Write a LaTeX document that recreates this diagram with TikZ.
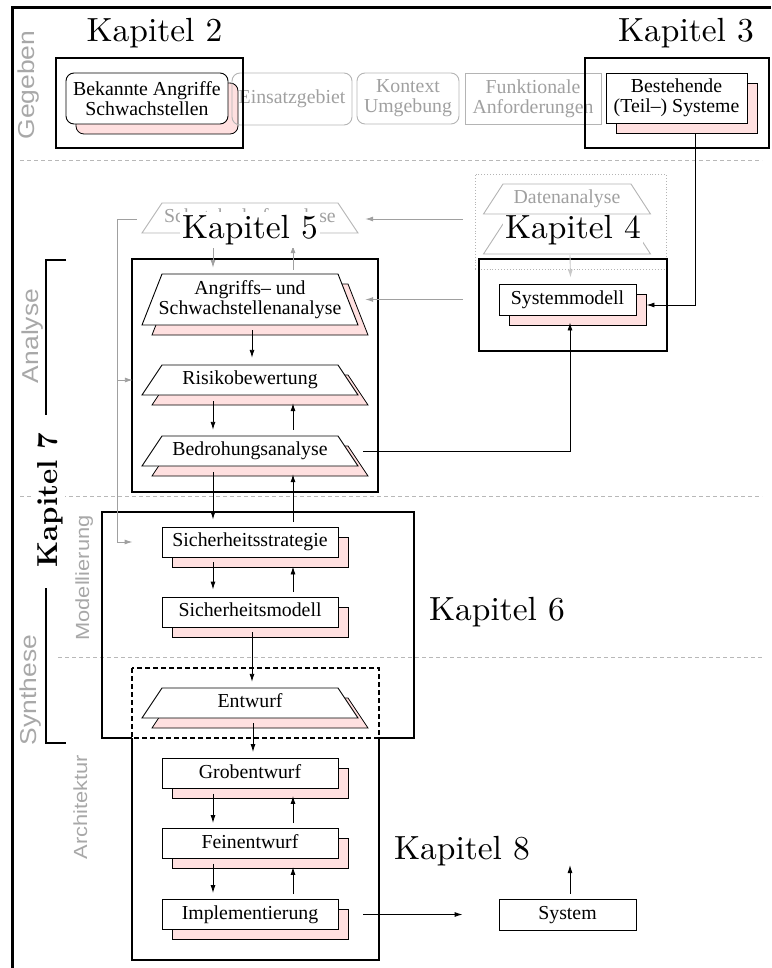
\documentclass[tikz,border=0pt]{standalone}
\usepackage{fontspec}
\newfontfamily\boxfont{Liberation Serif}
\newfontfamily\phasefont{Liberation Sans}
\usetikzlibrary{arrows.meta}

\definecolor{shadepink}{HTML}{FFE0E0}
\definecolor{phasegrey}{HTML}{A8A8A8}
\definecolor{ghostgrey}{HTML}{A0A0A0}
\definecolor{ghostline}{HTML}{B4B4B4}
\definecolor{faintgrey}{HTML}{C8C8C8}
\definecolor{rulegrey}{HTML}{B8B8B8}

\newcommand\boxsize{\fontsize{19.8pt}{20pt}\selectfont}
\newcommand\kapsize{\fontsize{10pt}{12pt}\selectfont}
\newcommand\phasesize{\fontsize{23pt}{24pt}\selectfont}
\newcommand\subphasesize{\fontsize{19pt}{20pt}\selectfont}

\tikzset{
  stepbox/.style={draw=black, line width=0.9pt, fill=white, inner sep=0pt,
    minimum width=176pt, minimum height=30pt, font=\boxfont\boxsize, align=center},
  oneline/.style={text height=13.5pt, text depth=4.5pt},
  castshade/.style={draw=black, line width=0.8pt, fill=shadepink},
  traplabel/.style={inner sep=0pt, minimum width=216pt, font=\boxfont\boxsize, align=center},
  trapface/.style={draw=black, line width=0.9pt, fill=white},
  trapshade/.style={draw=black, line width=0.8pt, fill=shadepink},
  ghosttrap/.style={draw=ghostline, line width=0.9pt, fill=white},
  ghostbox/.style={draw=ghostline, line width=0.9pt, inner sep=0pt, text=ghostgrey,
    font=\boxfont\boxsize, align=center},
  chapframe/.style={draw=black, line width=2.5pt},
  % chapter labels: 10pt design size, enlarged as a whole
  chaplabel/.style={font=\kapsize, scale=3.35, fill=white, inner xsep=0.6pt,
    inner ysep=0.9pt, anchor=base},
  phasetag/.style={font=\phasefont\phasesize, text=phasegrey, rotate=90, anchor=base,
    xscale=1.15, inner sep=0pt},
  subphasetag/.style={font=\phasefont\subphasesize, text=phasegrey, rotate=90, anchor=base,
    xscale=1.15, inner sep=0pt},
  flow/.style={draw=black, line width=0.9pt, -{Latex[length=8pt,width=5pt]}},
  ghostflow/.style={draw=ghostgrey, line width=0.9pt, -{Latex[length=8pt,width=5pt]}},
  faintflow/.style={draw=faintgrey, line width=0.9pt, -{Latex[length=8pt,width=5pt]}},
  phaserule/.style={draw=rulegrey, line width=0.8pt, dash pattern=on 4pt off 3pt},
}

% rectangular step with a pink copy offset behind it
% [size style]{name}{x}{y}{text}
\newcommand\caststep[5][]{%
  \node[stepbox,#1,castshade] at (#3+10,#4+10) {};
  \node[stepbox,#1] (#2) at (#3,#4) {#5};
}

% trapezoid step with a pink copy offset behind it
% {name}{cx}{cy}{half height}{text}
\newcommand\trapstep[5]{%
  \filldraw[trapshade] (#2-98,#3+#4+10) -- (#2+118,#3+#4+10) -- (#2+98,#3-#4+10) -- (#2-78,#3-#4+10) -- cycle;
  \filldraw[trapface] (#2-108,#3+#4) -- (#2+108,#3+#4) -- (#2+88,#3-#4) -- (#2-88,#3-#4) -- cycle;
  \node[traplabel, minimum height=2*#4] (#1) at (#2,#3) {#5};
}

% light grey trapezoid
% {name}{cx}{cy}{half top}{half bottom}{half height}{text}
\newcommand\ghosttrapez[7]{%
  \filldraw[ghosttrap] (#2-#5,#3+#6) -- (#2+#5,#3+#6) -- (#2+#4,#3-#6) -- (#2-#4,#3-#6) -- cycle;
  \node[traplabel, oneline, text=ghostgrey, minimum width=2*#5, minimum height=2*#6] (#1) at (#2,#3) {#7};
}

\newcommand\strutline[1]{\rule{0pt}{13.5pt}#1\rule[-4.5pt]{0pt}{4.5pt}}

\begin{document}
\begin{tikzpicture}[x=1pt,y=-1pt]
\useasboundingbox (0,0) rectangle (771,968);

% phase separators
\draw[phaserule] (20,160) -- (762,160);
\draw[phaserule] (20,496) -- (762,496);
\draw[phaserule] (58,657) -- (762,657);

% outer frame
\draw[line width=3pt] (12,968) -- (12,8) -- (771,8);

% phase names
\node[phasetag] (gegeben) at (34,85) {Gegeben};
\node[phasetag] (analyse) at (38,336) {Analyse};
\node[phasetag] (synthese) at (36,690) {Synthese};
\node[subphasetag] (modellierung) at (89,578) {Modellierung};
\node[subphasetag] (architektur) at (87,807) {Architektur};

% given inputs
\caststep[minimum width=162pt, minimum height=51pt, rounded corners=8pt]{bek}{147}{98.5}{Bekannte Angriffe\\Schwachstellen}
\node[ghostbox, oneline, rounded corners=8pt, minimum width=120pt, minimum height=52pt] (einsatz) at (292,99) {Einsatzgebiet};
\node[ghostbox, rounded corners=8pt, minimum width=102pt, minimum height=51pt] (kontext) at (408,98.5) {Kontext\\Umgebung};
\node[ghostbox, minimum width=136pt, minimum height=51pt] (funk) at (533,98.5) {Funktionale\\Anforderungen};
\caststep[minimum width=141pt, minimum height=50pt]{best}{676.5}{98}{Bestehende\\(Teil–) Systeme}

% analysis steps
\ghosttrapez{schutz}{250}{218}{88}{108}{15}{Schutzbedarfsanalyse}
\trapstep{ang}{250}{299.5}{25.5}{Angriffs– und\\Schwachstellenanalyse}
\trapstep{risk}{250}{380}{15}{\strutline{Risikobewertung}}
\trapstep{bed}{250}{451}{15}{\strutline{Bedrohungsanalyse}}

% system analysis
\node[draw=ghostline, dotted, line width=0.9pt, minimum width=191pt, minimum height=95pt, inner sep=0pt] (dbox) at (570.5,221.5) {};
\ghosttrapez{sysan}{567}{239}{64}{83.5}{15}{}
\caststep[oneline, minimum width=137pt, minimum height=31pt]{sysm}{567.5}{299.5}{Systemmodell}

% modelling and architecture steps
\caststep[oneline]{strat}{250}{542}{Sicherheitsstrategie}
\caststep[oneline]{smod}{250}{612}{Sicherheitsmodell}
\trapstep{entw}{250}{703}{15}{\strutline{Entwurf}}
\caststep[oneline]{grob}{250}{773.5}{Grobentwurf}
\caststep[oneline]{fein}{250}{843.5}{Feinentwurf}
\caststep[oneline]{impl}{250}{914.5}{Implementierung}
\node[stepbox, oneline, minimum width=137pt, minimum height=31pt] (sys) at (567.5,914.5) {System};

% chapter frames
\draw[chapframe] (56,58) rectangle (243,148);
\draw[chapframe] (585,58) rectangle (769,148);
\draw[chapframe] (132,259) rectangle (378,492);
\draw[chapframe] (479,259) rectangle (667,351);
\draw[chapframe] (132,738) -- (102,738) -- (102,512) -- (414,512) -- (414,738) -- (379,738);
\draw[chapframe, line width=2pt, dash pattern=on 5pt off 3pt] (132,668) rectangle (379,738);
\draw[chapframe] (132,738) -- (132,960) -- (379,960) -- (379,738);
\draw[chapframe, line width=2pt] (66,260) -- (46,260) -- (46,415);
\draw[chapframe, line width=2pt] (46,588) -- (46,743) -- (66,743);

% main flow
\draw[flow] ([xshift=2pt,yshift=-5pt]ang.south) -- ([xshift=2pt,yshift=7pt]risk.north);
\draw[flow] ([xshift=-37pt,yshift=-6pt]risk.south) -- ([xshift=-37pt,yshift=6pt]bed.north);
\draw[flow] ([xshift=43pt,yshift=6pt]bed.north) -- ([xshift=43pt,yshift=-8pt]risk.south);
\draw[flow] ([xshift=-37pt,yshift=-6pt]bed.south) -- ([xshift=-37pt,yshift=7pt]strat.north);
\draw[flow] ([xshift=43pt,yshift=5pt]strat.north) -- ([xshift=43pt,yshift=-8pt]bed.south);
\draw[flow] ([xshift=-37pt,yshift=-5pt]strat.south) -- ([xshift=-37pt,yshift=7pt]smod.north);
\draw[flow] ([xshift=43pt,yshift=5pt]smod.north) -- ([xshift=43pt,yshift=-9pt]strat.south);
\draw[flow] ([xshift=2pt,yshift=-5pt]smod.south) -- ([xshift=2pt,yshift=6pt]entw.north);
\draw[flow] ([xshift=3pt,yshift=-5pt]entw.south) -- ([xshift=3pt,yshift=6pt]grob.north);
\draw[flow] ([xshift=-37pt,yshift=-5pt]grob.south) -- ([xshift=-37pt,yshift=5pt]fein.north);
\draw[flow] ([xshift=43pt,yshift=5pt]fein.north) -- ([xshift=43pt,yshift=-7pt]grob.south);
\draw[flow] ([xshift=-37pt,yshift=-5pt]fein.south) -- ([xshift=-37pt,yshift=6pt]impl.north);
\draw[flow] ([xshift=43pt,yshift=5pt]impl.north) -- ([xshift=43pt,yshift=-8pt]fein.south);
\draw[flow] ([xshift=25pt]impl.east) -- ([xshift=-36pt]sys.west);
\coordinate (sysout) at (570,865);
\draw[flow] ([xshift=2.5pt,yshift=5pt]sys.north) -- (sysout);
\draw[flow] ([xshift=5pt]bed.east) -| ([xshift=2.5pt,yshift=-7pt]sysm.south);
\draw[flow] ([xshift=18.5pt,yshift=-10pt]best.south) |- ([xshift=10pt,yshift=-5.5pt]sysm.east);

% grey feedback
\draw[ghostflow] ([xshift=-12pt,yshift=2.5pt]dbox.west) -- ([xshift=7pt,yshift=-1pt]schutz.east);
\draw[ghostflow] ([xshift=-36pt]sysm.west) -- ([xshift=7pt]ang.east);
\draw[ghostflow] ([xshift=-37pt,yshift=-5pt]schutz.south) -- ([xshift=-37pt,yshift=6pt]ang.north);
\draw[ghostflow] ([xshift=43pt,yshift=4pt]ang.north) -- ([xshift=43pt,yshift=-12pt]schutz.south);
\coordinate (bus) at (117,219);
\draw[ghostflow] ([xshift=-5pt,yshift=-1pt]schutz.west) -- (bus) |- ([xshift=-29pt]strat.west);
\draw[ghostflow] (bus |- risk.west) -- ([xshift=-9pt]risk.west);
\draw[faintflow] ([xshift=3pt,yshift=-1pt]sysan.south) -- ([xshift=3pt,yshift=6pt]sysm.north);

% chapter labels
\node[chaplabel] (k2) at (154.5,42) {Kapitel 2};
\node[chaplabel] (k3) at (686,42) {Kapitel 3};
\node[chaplabel] (k5) at (250,238) {Kapitel 5};
\node[chaplabel] (k4) at (573,238) {Kapitel 4};
\ghosttrapez{daten}{567}{199}{64}{83.5}{15}{Datenanalyse}
\node[chaplabel] (k6) at (497,620) {Kapitel 6};
\node[chaplabel] (k8) at (462,859) {Kapitel 8};
\node[chaplabel, rotate=90, scale=0.86] (k7) at (57,500) {\bfseries Kapitel 7};
\end{tikzpicture}
\end{document}
